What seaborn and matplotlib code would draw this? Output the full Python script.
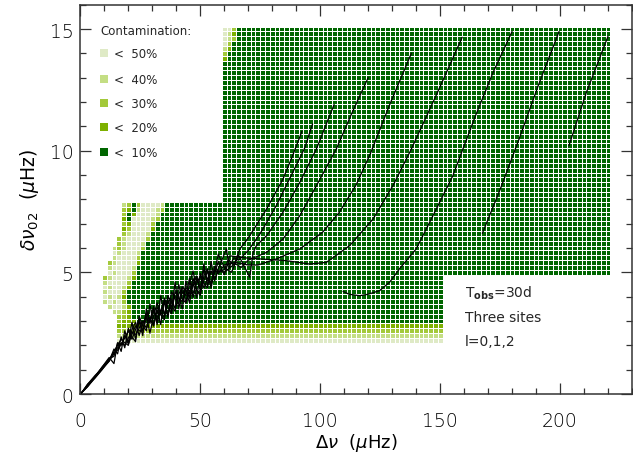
import numpy as np
import pandas as pd
import matplotlib
matplotlib.use("Agg")
import matplotlib.pyplot as plt
import seaborn as sns
from matplotlib.colors import ListedColormap, BoundaryNorm
from matplotlib.ticker import MultipleLocator

# ---------------- data ----------------
# contamination grid: cell centres
grid_dx = [10 + 2 * i for i in range(106)]            # 10 .. 220 muHz
grid_dy = [round(2.2 + 0.2 * j, 1) for j in range(65)]  # 2.2 .. 15.0 muHz

level_names = ["< 10%", "< 20%", "< 30%", "< 40%", "< 50%"]
level_colors = ["#006600", "#7db000", "#a3c93a", "#c4de84", "#dfeac6"]

# low-frequency block (x = 10..58) read row by row, top (7.8) to bottom (2.2)
left_map = [
    "....431355554111111111111",
    "....321455543111111111111",
    "....312555541111111111111",
    "....215555431111111111111",
    "....325555311111111111111",
    "....235555211111111111111",
    "....345554111111111111111",
    "...3455553111111111111111",
    "...3455541111111111111111",
    "..43455531111111111111111",
    "..54555411111111111111111",
    "..45555311111111111111111",
    ".345555211111111111111111",
    ".455554111111111111111111",
    ".545553111111111111111111",
    "3455542111111111111111111",
    "4555531111111111111111111",
    "5455421111111111111111111",
    "4555311111111111111111111",
    "5454211111111111111111111",
    "4545311111111111111111111",
    ".455421111111111111111111",
    "..44321111111111111111111",
    "...3321111111111111111111",
    "...3222111111111111111111",
    "...2222222222222222222222",
    "...3333333333333333333333",
    "...4444444444444444444444",
    "...5555555555555555555555",
]
# top-left corner of main block (x = 60, 62, 64), rows 15.0 down to 13.8
corner_map = ["553", "542", "543", "531", "421", "311", "211"]
# bottom band levels for rows 2.2, 2.4, 2.6, 2.8
band_levels = [5, 4, 3, 2]
# block extents
low_block_xmax = 150
main_block_ymin = 5.0
main_block_xmin = 60
main_block_xmax = 220

# evolutionary tracks (Delta nu, delta nu_02)
low_x = [0.5, 3, 6, 9, 12, 14, 15.5, 17, 18.5, 20, 21.5, 23, 24.5, 26, 27.5, 29,
         30.5, 32, 33.5, 35, 36.5, 38, 39.5, 41, 42.5, 44, 45.5, 47, 48.5, 50,
         51.5, 53, 54.5, 56, 57.5]
tr1_y = [0.05, 0.35, 0.7, 1.1, 1.45, 1.55, 2.1, 1.75, 2.6, 2.1, 2.95, 2.25, 3.0,
         2.4, 3.5, 2.9, 3.5, 2.85, 4.05, 3.25, 3.85, 3.4, 4.6, 3.5, 4.2, 4.05,
         4.75, 3.95, 4.75, 4.35, 5.35, 4.45, 5.05, 4.95, 5.45]
tr2_y = [0.05, 0.4, 0.75, 1.05, 1.35, 1.85, 1.65, 2.35, 1.9, 2.7, 2.35, 2.15, 3.2,
         2.8, 2.6, 3.7, 2.8, 3.45, 2.85, 3.95, 3.55, 3.3, 4.2, 4.0, 3.5, 4.65,
         3.95, 4.55, 3.95, 4.95, 4.55, 4.35, 5.45, 4.65, 5.15]
tr3_y = [0.05, 0.3, 0.65, 1.0, 1.4, 1.75, 2.0, 2.25, 2.1, 2.0, 2.65, 2.95, 2.4,
         2.9, 3.2, 2.5, 3.2, 3.75, 3.25, 3.05, 3.95, 3.9, 3.5, 4.5, 3.9, 3.75,
         4.55, 5.05, 4.25, 4.05, 4.85, 5.15, 4.45, 5.05, 5.75]
tr4_y = [0.05, 0.4, 0.7, 1.1, 1.5, 1.25, 2.1, 2.05, 2.3, 2.6, 2.25, 2.65, 3.1,
         2.6, 3.1, 3.0, 3.6, 2.95, 3.45, 3.75, 3.15, 4.2, 3.9, 3.7, 4.4, 4.25,
         3.75, 4.55, 4.85, 4.25, 4.65, 5.05, 4.35, 5.15, 4.95]
tr5_y = [0.05, 0.3, 0.7, 1.05, 1.4, 1.7, 1.8, 2.1, 2.0, 2.3, 2.55, 2.45, 2.7,
         3.0, 2.7, 3.1, 3.4, 3.15, 3.35, 3.85, 3.25, 3.8, 4.0, 3.9, 3.8, 4.35,
         4.25, 4.15, 4.55, 4.85, 4.35, 4.75, 5.05, 4.75, 5.05]
tr6_y = [0.05, 0.35, 0.65, 1.0, 1.35, 1.65, 1.9, 2.0, 2.4, 2.05, 2.45, 2.8, 2.6,
         2.6, 3.3, 3.1, 2.8, 3.55, 3.35, 3.15, 4.05, 3.6, 3.4, 4.1, 4.4, 3.75,
         4.15, 4.75, 4.25, 4.15, 5.15, 4.65, 4.55, 5.25, 5.05]

tr1_hx = [60, 62, 64, 66.5, 70.6, 77.6, 84.5, 88.5, 92.4]
tr1_hy = [4.9, 5.5, 5.3, 5.96, 6.5, 7.6, 8.84, 9.8, 10.8]
tr2_hx = [60.9, 62, 64, 66, 70, 75, 82, 89, 93.5, 96.8]
tr2_hy = [5.96, 5.2, 5.6, 5.5, 5.9, 6.6, 7.8, 9.2, 10.1, 11.1]
tr3_hx = [60, 63, 66, 70.6, 72, 73.4, 77.6, 84.5, 91.5, 98.4, 105.8]
tr3_hy = [5.2, 5.0, 5.7, 4.8, 5.8, 6.1, 6.5, 7.47, 8.7, 10.07, 11.9]
tr4_hx = [60, 64, 67, 70, 77.6, 84.5, 91.5, 98.4, 106.7, 113, 120]
tr4_hy = [5.3, 5.4, 5.2, 5.5, 5.82, 6.37, 7.33, 8.56, 10.07, 11.5, 13.0]
tr5_hx = [60, 65, 70, 74, 81.7, 91.5, 101, 108, 115, 121, 129, 138]
tr5_hy = [5.0, 5.4, 5.3, 5.3, 5.55, 5.96, 6.65, 7.47, 8.6, 9.9, 11.9, 14.0]
tr6_hx = [60, 62.3, 68, 75, 85.9, 95.6, 102.6, 112.3, 122, 130.3, 138, 148, 159.2]
tr6_hy = [5.1, 5.68, 5.6, 5.55, 5.48, 5.34, 5.41, 6.1, 7.19, 8.56, 10.07, 12.2, 14.66]
tr7_x = [109.5, 112, 116.5, 120, 124.8, 129, 133, 140, 148.4, 155.3, 159.5, 165, 172, 180]
tr7_y = [4.22, 4.1, 4.04, 4.1, 4.25, 4.6, 5.14, 5.96, 7.6, 8.97, 10.07, 11.5, 13.2, 14.9]
tr8_x = [167.6, 175, 183, 191, 199.6]
tr8_y = [6.6, 8.4, 10.5, 12.7, 14.9]
tr9_x = [203.7, 211, 220]
tr9_y = [10.2, 12.4, 14.7]

annot_lines = [r"T$_{\mathbf{obs}}$=30d", "Three sites", "l=0,1,2"]

# ---------------- build grid ----------------
gx = np.array(grid_dx, dtype=float)
gy = np.array(grid_dy, dtype=float)
L = np.full((gy.size, gx.size), np.nan)
for j, yv in enumerate(gy):
    for i, xv in enumerate(gx):
        if xv >= main_block_xmin:
            if yv < main_block_ymin and xv <= low_block_xmax:
                L[j, i] = 1
            elif yv >= main_block_ymin and xv <= main_block_xmax:
                L[j, i] = 1
for k, lev in enumerate(band_levels):
    for i, xv in enumerate(gx):
        if main_block_xmin <= xv <= low_block_xmax:
            L[k, i] = lev
nrow_left = len(left_map)
for r, row in enumerate(left_map):
    j = nrow_left - 1 - r
    for c, ch in enumerate(row):
        if ch != ".":
            L[j, c] = int(ch)
for r, row in enumerate(corner_map):
    j = gy.size - 1 - r
    for c, ch in enumerate(row):
        L[j, 25 + c] = int(ch)

xe = np.concatenate([gx - 1.0, [gx[-1] + 1.0]])
ye = np.concatenate([gy - 0.1, [gy[-1] + 0.1]])

# ---------------- plot ----------------
sns.set_style("ticks")
plt.rcParams["font.family"] = ["DejaVu Sans"]
plt.rcParams["mathtext.fontset"] = "dejavusans"

fig, ax = plt.subplots(figsize=(6.33, 4.6), dpi=100)
fig.subplots_adjust(left=0.127, right=0.9984, top=0.9876, bottom=0.1413)

cmap = ListedColormap(level_colors)
norm = BoundaryNorm([0.5, 1.5, 2.5, 3.5, 4.5, 5.5], cmap.N)
ax.pcolormesh(xe, ye, np.ma.masked_invalid(L), cmap=cmap, norm=norm,
              edgecolors="white", linewidth=0.55, antialiased=False, zorder=1)

tracks = [
    (low_x + tr1_hx, tr1_y + tr1_hy),
    (low_x + tr2_hx, tr2_y + tr2_hy),
    (low_x + tr3_hx, tr3_y + tr3_hy),
    (low_x + tr4_hx, tr4_y + tr4_hy),
    (low_x + tr5_hx, tr5_y + tr5_hy),
    (low_x + tr6_hx, tr6_y + tr6_hy),
    (tr7_x, tr7_y),
    (tr8_x, tr8_y),
    (tr9_x, tr9_y),
]
for tx, ty in tracks:
    df = pd.DataFrame({"dnu": tx, "d02": ty})
    sns.lineplot(data=df, x="dnu", y="d02", sort=False, estimator=None,
                 color="black", linewidth=0.9, ax=ax, zorder=3)

ax.set_xlim(0, 230)
ax.set_ylim(0, 16)
ax.xaxis.set_major_locator(MultipleLocator(50))
ax.xaxis.set_minor_locator(MultipleLocator(10))
ax.yaxis.set_major_locator(MultipleLocator(5))
ax.yaxis.set_minor_locator(MultipleLocator(1))
ax.tick_params(which="both", direction="in", top=True, right=True,
               color="#333333", width=0.9, labelcolor="black")
ax.tick_params(which="major", length=8, labelsize=13.5)
ax.tick_params(axis="x", which="major", pad=12)
ax.tick_params(axis="y", which="major", pad=5)
ax.tick_params(which="minor", length=4)
for lab in ax.get_xticklabels() + ax.get_yticklabels():
    lab.set_fontweight("light")
for s in ax.spines.values():
    s.set_color("#333333")
    s.set_linewidth(1.1)

ax.set_xlabel(r"$\Delta\nu$  ($\mu$Hz)", fontsize=13, labelpad=1, color="black")
ax.set_ylabel(r"$\delta\nu_{02}$  ($\mu$Hz)", fontsize=13.5, labelpad=6, color="black")

# legend (manual)
ax.text(0.0354, 0.933, "Contamination:", transform=ax.transAxes,
        fontsize=8.5, va="center", ha="left", zorder=5)
leg_y = [0.8747, 0.8091, 0.7475, 0.6858, 0.6216]
for k in range(5):
    lev = 4 - k
    ax.scatter([0.0435], [leg_y[k]], marker="s", s=26, color=level_colors[lev],
               transform=ax.transAxes, zorder=5, linewidths=0, clip_on=False)
    ax.text(0.0607, leg_y[k], "<  " + level_names[lev].split(" ")[1],
            transform=ax.transAxes, fontsize=8.5, va="center", ha="left", zorder=5)

# annotation
ann_y = [4.19, 3.16, 2.18]
for txt, yy in zip(annot_lines, ann_y):
    ax.text(160.2, yy, txt, fontsize=10, va="center", ha="left", zorder=5)

fig.savefig("out.png", dpi=100)
